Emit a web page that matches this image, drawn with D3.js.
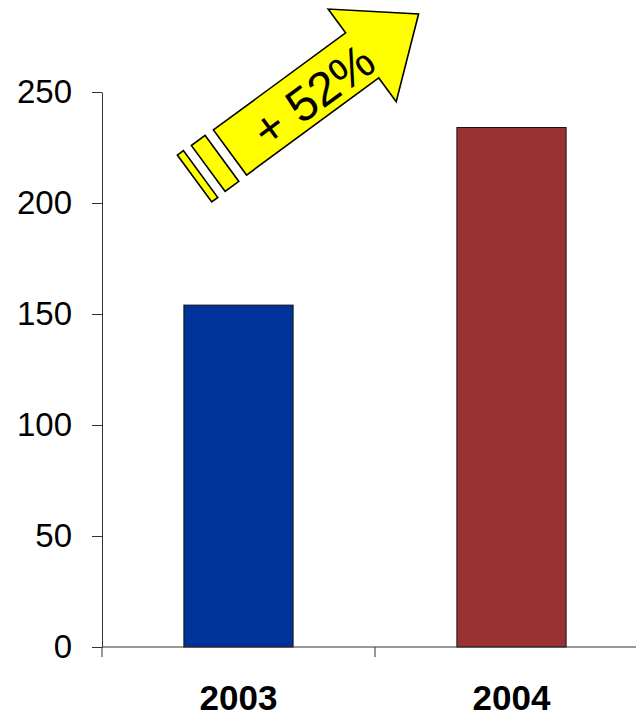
<!DOCTYPE html>
<html>
<head>
<meta charset="utf-8">
<script src="https://cdn.jsdelivr.net/npm/d3@7"></script>
<style>
  html, body { margin: 0; padding: 0; background: #fff; }
  svg { display: block; font-family: "Liberation Sans", Arial, sans-serif; }
</style>
</head>
<body>
<svg id="chart" width="636" height="713"></svg>
<script>
// Yearly totals
const categories = ["2003", "2004"];
const values = [154, 234];
const barColors = ["#003399", "#993333"];
const yTicks = [0, 50, 100, 150, 200, 250];

const svg = d3.select("#chart");

const x = d3.scaleBand()
  .domain(categories)
  .range([102, 648])
  .paddingInner(0.6)
  .paddingOuter(0.3);

const y = d3.scaleLinear()
  .domain([0, 250])
  .range([647, 92]);

// Bars
svg.append("g")
  .selectAll("rect")
  .data(categories)
  .join("rect")
  .attr("x", d => x(d))
  .attr("y", (d, i) => y(values[i]))
  .attr("width", x.bandwidth())
  .attr("height", (d, i) => y(0) - y(values[i]))
  .attr("fill", (d, i) => barColors[i])
  .attr("stroke", "#111")
  .attr("stroke-width", 1);

// Y axis
const yAxis = svg.append("g")
  .attr("transform", `translate(${x.range()[0]},0)`)
  .call(d3.axisLeft(y).tickValues(yTicks).tickSize(10).tickPadding(20).tickSizeOuter(0));
yAxis.select(".domain").attr("stroke", "#333");
yAxis.selectAll(".tick line").attr("stroke", "#333");
yAxis.selectAll(".tick text")
  .attr("font-size", 33)
  .attr("font-family", "Liberation Sans, Arial, sans-serif")
  .attr("fill", "#000");

// X axis: baseline with ticks at category boundaries
const xAxis = svg.append("g");
xAxis.append("line")
  .attr("x1", x.range()[0]).attr("x2", x.range()[1])
  .attr("y1", y(0)).attr("y2", y(0))
  .attr("stroke", "#333");
const bounds = d3.range(categories.length + 1).map(i => x.range()[0] + i * x.step());
xAxis.selectAll("line.tick")
  .data(bounds)
  .join("line")
  .attr("class", "tick")
  .attr("x1", d => d).attr("x2", d => d)
  .attr("y1", y(0)).attr("y2", y(0) + 10)
  .attr("stroke", "#333");
xAxis.selectAll("text")
  .data(categories)
  .join("text")
  .attr("x", d => x(d) + x.bandwidth() / 2)
  .attr("y", y(0) + 63)
  .attr("text-anchor", "middle")
  .attr("font-size", 35)
  .attr("font-weight", "bold")
  .attr("fill", "#000")
  .text(d => d);

// Growth arrow
const growth = Math.round((values[1] / values[0] - 1) * 100);
const arrow = svg.append("g")
  .attr("transform", "translate(230,152.5) rotate(-36.3)");
const arrowStyle = g => g.attr("fill", "#ffff00").attr("stroke", "#000").attr("stroke-width", 1.6).attr("stroke-linejoin", "miter");

arrow.append("path")
  .attr("d", "M0,-28 L164,-28 L164,-57.5 L234,0 L164,57.5 L164,28 L0,28 Z")
  .call(arrowStyle);
arrow.append("rect")
  .attr("x", -27).attr("y", -28.5).attr("width", 17).attr("height", 57)
  .call(arrowStyle);
arrow.append("rect")
  .attr("x", -44).attr("y", -29).attr("width", 7.5).attr("height", 58)
  .call(arrowStyle);
arrow.append("text")
  .attr("x", 101)
  .attr("y", 20)
  .attr("text-anchor", "middle")
  .attr("font-size", 48)
  .attr("fill", "#000")
  .text(`+ ${growth}%`);
</script>
</body>
</html>
